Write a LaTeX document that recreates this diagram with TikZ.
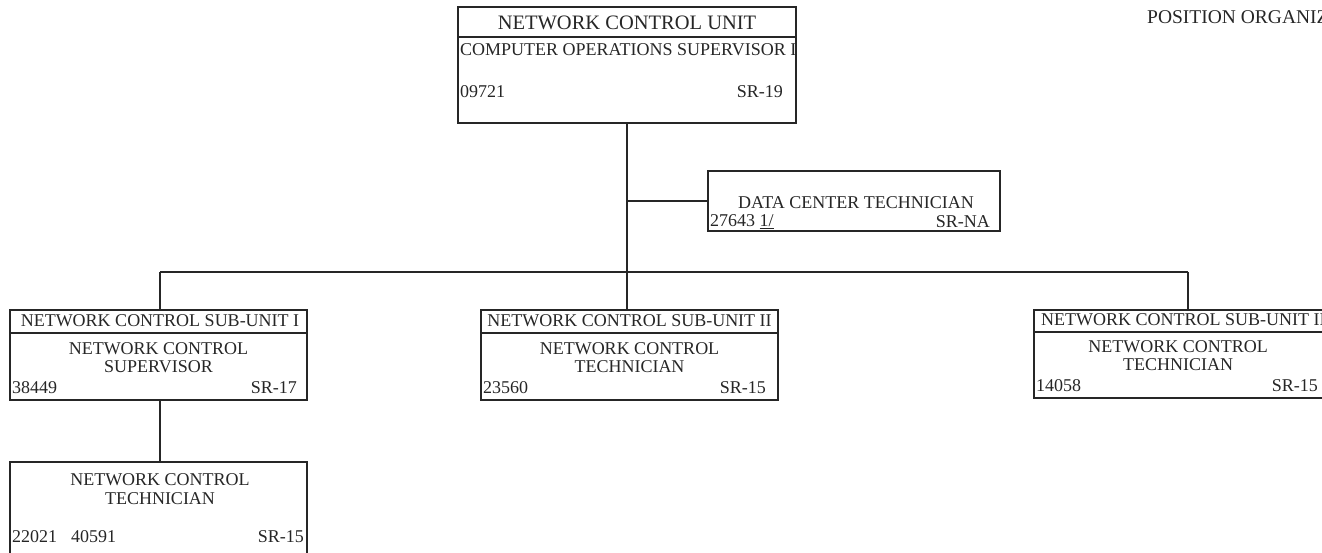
\documentclass[tikz,border=0pt]{standalone}
\usepackage{fontspec}
\setmainfont{Liberation Serif}
\begin{document}
\begin{tikzpicture}[x=1pt,y=-1pt,
  box/.style={draw=black!85,line width=1.2pt,rectangle,inner sep=0pt},
  link/.style={draw=black!85,line width=1.2pt},
  txt/.style={inner sep=0pt,font=\fontsize{18}{21}\selectfont,text=black!85},
  ttl/.style={inner sep=0pt,font=\fontsize{20.5}{23}\selectfont,text=black!85},
  hdr/.style={inner sep=0pt,font=\fontsize{19.5}{22}\selectfont,text=black!85}]
\useasboundingbox (0,0) rectangle (1322,553);
\clip (0,0) rectangle (1322,553);

% top unit
\node[box,minimum width=338pt,minimum height=116pt] (ncu) at (627,65) {};
\draw[link] (ncu.west |- 0,37) -- (ncu.east |- 0,37);
\node[ttl] (ncuT) at (627,23) {NETWORK CONTROL UNIT};
\begin{scope}
  \clip (ncu.south west) rectangle (ncu.north east);
  \node[txt,anchor=west] (ncuP) at (460,50) {COMPUTER OPERATIONS SUPERVISOR I};
\end{scope}
\node[txt,anchor=west] (ncuN) at (460,92) {09721};
\node[txt,anchor=east] (ncuG) at (783,92) {SR-19};

% data center technician
\node[box,minimum width=292pt,minimum height=60pt,fill=white] (dct) at (854,201) {};
\node[txt] (dctP) at (856,203) {DATA CENTER TECHNICIAN};
\node[txt,anchor=west] (dctN) at (710,222) {27643 \underline{1/}};
\node[txt,anchor=east] (dctG) at (990,222) {SR-NA};

% sub-unit I
\node[box,minimum width=297pt,minimum height=90pt] (u1) at (158.5,355) {};
\draw[link] (u1.west |- 0,333) -- (u1.east |- 0,333);
\node[txt] (u1T) at (160,321) {NETWORK CONTROL SUB-UNIT I};
\node[txt] (u1P) at (158.5,349) {NETWORK CONTROL};
\node[txt] (u1Q) at (158.5,367) {SUPERVISOR};
\node[txt,anchor=west] (u1N) at (12,388) {38449};
\node[txt,anchor=east] (u1G) at (297,388) {SR-17};

% sub-unit II
\node[box,minimum width=297pt,minimum height=90pt] (u2) at (629.5,355) {};
\draw[link] (u2.west |- 0,333) -- (u2.east |- 0,333);
\node[txt] (u2T) at (629.5,321) {NETWORK CONTROL SUB-UNIT II};
\node[txt] (u2P) at (629.5,349) {NETWORK CONTROL};
\node[txt] (u2Q) at (629.5,367) {TECHNICIAN};
\node[txt,anchor=west] (u2N) at (483,388) {23560};
\node[txt,anchor=east] (u2G) at (766,388) {SR-15};

% sub-unit III
\node[box,minimum width=292pt,minimum height=88pt] (u3) at (1180,354) {};
\draw[link] (u3.west |- 0,332) -- (u3.east |- 0,332);
\node[txt,anchor=west] (u3T) at (1041,320) {NETWORK CONTROL SUB-UNIT III};
\node[txt] (u3P) at (1178,347) {NETWORK CONTROL};
\node[txt] (u3Q) at (1178,365) {TECHNICIAN};
\node[txt,anchor=west] (u3N) at (1036,386) {14058};
\node[txt,anchor=east] (u3G) at (1318,386) {SR-15};

% technician under sub-unit I
\node[box,minimum width=297pt,minimum height=100pt] (t1) at (158.5,512) {};
\node[txt] (t1P) at (160,480) {NETWORK CONTROL};
\node[txt] (t1Q) at (160,499) {TECHNICIAN};
\node[txt,anchor=west] (t1N) at (12,537) {22021\hspace{14pt}40591};
\node[txt,anchor=east] (t1G) at (304,537) {SR-15};

% heading
\node[hdr,anchor=west] (head) at (1147,17) {POSITION ORGANIZATION CHART};

% connectors
\coordinate (hub) at (ncu.south |- 0,272);
\draw[link] (ncu.south) -- (hub);
\draw[link] (ncu.south |- dct.west) -- (dct.west);
\draw[link] ([xshift=1.5pt]u1.north |- hub) -- ([xshift=8pt]u3.north |- hub);
\draw[link] ([xshift=1.5pt]u1.north |- hub) -- ([xshift=1.5pt]u1.north);
\draw[link] (hub) -- (hub |- u2.north);
\draw[link] ([xshift=8pt]u3.north |- hub) -- ([xshift=8pt]u3.north);
\draw[link] ([xshift=1.5pt]u1.south) -- ([xshift=1.5pt]u1.south |- t1.north);
\end{tikzpicture}
\end{document}
